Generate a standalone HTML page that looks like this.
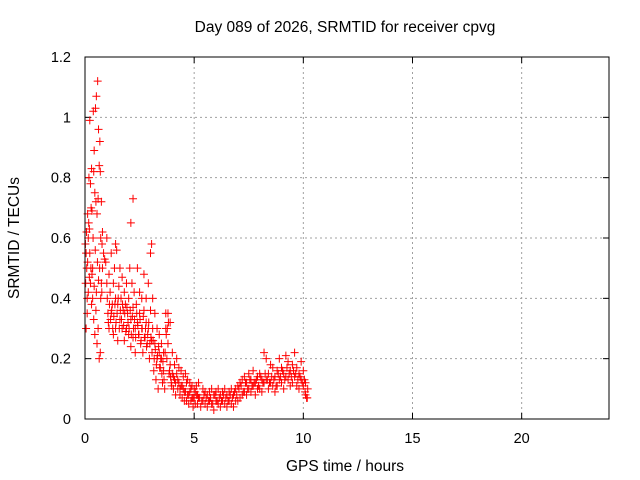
<!DOCTYPE html>
<html><head><meta charset="utf-8"><style>
body{margin:0;background:#fff;width:640px;height:480px;overflow:hidden}
svg{display:block;font-family:"Liberation Sans",sans-serif}
</style></head><body>
<svg id="chart" width="640" height="480">
<rect width="640" height="480" fill="#fff"/>
<text x="345" y="32" font-size="15.5" text-anchor="middle">Day 089 of 2026, SRMTID for receiver cpvg</text>
<g id="grid"></g>
<g id="axes"></g>
<g id="points"></g>
<rect x="85" y="57" width="524" height="362" fill="none" stroke="#000" stroke-width="1"/>
<text x="345" y="471" font-size="15.5" text-anchor="middle">GPS time / hours</text>
<text x="19" y="238" font-size="15.5" text-anchor="middle" transform="rotate(-90 19 238)">SRMTID / TECUs</text>
</svg>
<script>
const xTicks=[0,5,10,15,20];
const yTicks=[0,0.2,0.4,0.6,0.8,1,1.2];
const yTickLabels=["0","0.2","0.4","0.6","0.8","1","1.2"];
const hours=[0.03,0.05,0.08,0.1,0.12,0.15,0.18,0.2,0.22,0.25,0.28,0.3,0.32,0.35,0.38,0.4,0.42,0.45,0.48,0.5,0.52,0.55,0.58,0.6,0.62,0.65,0.68,0.7,0.72,0.75,0.78,0.8,0.05,0.1,0.15,0.2,0.25,0.3,0.35,0.4,0.45,0.5,0.55,0.6,0.65,0.7,0.75,0.8,0.85,0.9,0.95,1.0,
1.0,1.05,1.1,1.1,1.15,1.2,1.2,1.25,1.3,1.3,1.35,1.4,1.4,1.45,1.5,1.5,1.55,1.6,1.6,1.65,1.7,1.7,1.75,1.8,1.8,1.85,1.9,1.9,1.95,2.0,2.0,2.05,2.1,2.1,2.15,2.2,2.2,2.25,2.3,2.3,2.35,2.4,2.4,2.45,2.5,2.5,2.55,2.6,2.6,2.65,2.7,2.7,2.75,2.8,2.8,2.85,2.9,2.9,2.95,3.0,3.0,3.05,3.1,3.1,3.15,3.2,3.2,3.25,3.3,3.3,3.35,3.4,3.4,3.45,3.5,3.5,3.55,3.6,3.6,3.65,3.7,3.7,3.75,3.8,3.8,3.85,3.9,3.9,3.95,4.0,4.0,4.05,4.1,4.1,4.15,4.2,4.2,4.25,4.3,4.3,4.35,4.4,4.4,4.45,4.5,4.5,4.55,4.6,4.6,4.65,4.7,4.7,4.75,4.8,4.8,4.85,4.9,4.9,4.95,5.0,5.0,5.05,5.1,5.1,5.15,5.2,5.2,5.3,5.4,5.4,5.5,5.5,5.6,5.6,5.7,5.7,5.8,5.8,5.9,5.9,6.0,6.0,6.1,6.1,6.2,6.2,6.3,6.3,6.4,6.4,6.5,6.5,6.6,6.6,6.7,6.7,6.8,6.8,6.9,6.9,7.0,7.0,7.1,7.1,7.2,7.2,7.3,7.3,7.4,7.4,7.5,7.5,7.6,7.6,7.7,7.7,7.8,7.8,7.9,7.9,8.0,8.0,8.1,8.1,8.2,8.2,8.3,8.3,8.4,8.4,8.5,8.5,8.6,8.6,8.7,8.7,8.8,8.8,8.9,8.9,9.0,9.0,9.1,9.1,9.2,9.2,9.3,9.3,9.4,9.4,9.5,9.5,9.6,9.6,9.7,9.7,9.8,9.8,9.9,9.9,10.0,10.0,10.05,10.1,10.1,10.15,10.2];
const tec=[0.45,0.55,0.5,0.4,0.68,0.6,0.8,0.63,0.99,0.78,0.7,0.83,0.69,0.5,1.02,0.82,0.89,0.75,1.03,0.72,1.07,0.68,1.12,0.73,0.96,0.84,0.92,0.82,0.6,0.72,0.58,0.62,0.3,0.35,0.42,0.47,0.45,0.38,0.4,0.33,0.28,0.36,0.25,0.3,0.2,0.22,0.45,0.5,0.55,0.53,0.52,0.6,
0.45,0.35,0.48,0.3,0.42,0.55,0.35,0.38,0.45,0.28,0.5,0.4,0.3,0.56,0.38,0.26,0.44,0.5,0.33,0.4,0.47,0.3,0.36,0.42,0.26,0.38,0.45,0.3,0.35,0.4,0.28,0.5,0.33,0.24,0.45,0.37,0.27,0.42,0.3,0.22,0.38,0.5,0.32,0.28,0.42,0.35,0.25,0.4,0.3,0.22,0.36,0.48,0.27,0.32,0.4,0.25,0.45,0.3,0.2,0.36,0.55,0.26,0.4,0.3,0.16,0.35,0.25,0.13,0.3,0.2,0.1,0.28,0.22,0.17,0.25,0.2,0.12,0.22,0.16,0.1,0.35,0.3,0.2,0.35,0.25,0.15,0.32,0.18,0.12,0.22,0.15,0.1,0.18,0.13,0.08,0.2,0.15,0.1,0.17,0.12,0.08,0.16,0.11,0.07,0.14,0.1,0.06,0.15,0.09,0.06,0.13,0.08,0.05,0.12,0.09,0.06,0.11,0.07,0.04,0.1,0.07,0.05,0.11,0.08,0.05,0.12,0.07,0.04,0.1,0.06,0.09,0.05,0.08,0.04,0.09,0.06,0.1,0.05,0.08,0.03,0.09,0.06,0.1,0.05,0.08,0.04,0.09,0.06,0.1,0.05,0.08,0.04,0.09,0.06,0.1,0.05,0.08,0.04,0.1,0.06,0.11,0.06,0.12,0.07,0.13,0.08,0.14,0.09,0.12,0.08,0.15,0.1,0.13,0.09,0.16,0.11,0.12,0.08,0.14,0.1,0.15,0.1,0.13,0.09,0.22,0.12,0.2,0.13,0.15,0.1,0.18,0.12,0.17,0.11,0.14,0.09,0.16,0.11,0.2,0.13,0.17,0.12,0.15,0.1,0.21,0.14,0.19,0.13,0.16,0.11,0.18,0.12,0.22,0.14,0.17,0.11,0.15,0.1,0.19,0.13,0.16,0.11,0.13,0.08,0.12,0.07,0.1,0.06,0.05];
const hours2=[0.02,0.07,0.12,0.17,0.22,0.27,0.32,0.37,0.42,0.47,0.52,0.57,0.62,0.67,0.72,0.77,
1.02,1.07,1.12,1.17,1.22,1.27,1.32,1.37,1.42,1.47,1.52,1.57,1.62,1.67,1.72,1.77,1.82,1.87,1.92,1.97,2.02,2.07,2.12,2.17,2.22,2.27,2.32,2.37,2.42,2.47,2.52,2.57,2.62,2.67,2.72,2.77,2.82,2.87,2.92,2.97,3.02,3.07,3.12,3.17,3.22,3.27,3.32,3.37,3.42,3.47,3.52,3.57,3.62,3.67,3.72,3.77,3.82,3.87,3.92,3.97,
4.05,4.15,4.25,4.35,4.45,4.55,4.65,4.75,4.85,4.95,5.05,5.15,5.25,5.35,5.45,5.55,5.65,5.75,5.85,5.95,6.05,6.15,6.25,6.35,6.45,6.55,6.65,6.75,6.85,6.95,7.05,7.15,7.25,7.35,7.45,7.55,7.65,7.75,7.85,7.95,8.05,8.15,8.25,8.35,8.45,8.55,8.65,8.75,8.85,8.95,9.05,9.15,9.25,9.35,9.45,9.55,9.65,9.75,9.85,9.95,10.08,10.18,
2.2,2.1,1.4,3.05];
const tec2=[0.58,0.62,0.52,0.65,0.55,0.5,0.48,0.6,0.44,0.56,0.42,0.52,0.46,0.5,0.4,0.42,
0.4,0.32,0.38,0.33,0.36,0.3,0.34,0.38,0.32,0.35,0.4,0.3,0.36,0.33,0.38,0.31,0.35,0.29,0.37,0.32,0.3,0.36,0.28,0.34,0.3,0.33,0.27,0.35,0.31,0.28,0.33,0.26,0.3,0.34,0.27,0.3,0.24,0.28,0.32,0.25,0.27,0.22,0.26,0.2,0.23,0.18,0.21,0.24,0.17,0.2,0.15,0.19,0.13,0.22,0.28,0.3,0.32,0.16,0.14,0.11,
0.14,0.12,0.13,0.1,0.11,0.09,0.12,0.08,0.1,0.07,0.09,0.08,0.07,0.06,0.08,0.07,0.06,0.07,0.05,0.08,0.06,0.07,0.06,0.08,0.07,0.06,0.08,0.07,0.09,0.08,0.1,0.11,0.09,0.12,0.1,0.13,0.11,0.12,0.13,0.11,0.14,0.12,0.15,0.13,0.12,0.14,0.13,0.11,0.15,0.14,0.16,0.13,0.17,0.15,0.14,0.16,0.15,0.13,0.14,0.12,0.09,0.07,
0.73,0.65,0.58,0.58];
const X0=85,X1=609,Y0=419,Y1=57,XMAX=24,YMAX=1.2;
const xs=v=>X0+(X1-X0)*v/XMAX, ys=v=>Y0-(Y0-Y1)*v/YMAX;
const NS="http://www.w3.org/2000/svg";
const grid=document.getElementById('grid'),axes=document.getElementById('axes'),pts=document.getElementById('points');
function mk(t,a){const e=document.createElementNS(NS,t);for(const k in a)e.setAttribute(k,a[k]);return e;}
xTicks.forEach((v,i)=>{const x=xs(v);
 if(v>0){const g=mk('line',{x1:x,x2:x,y1:Y1,y2:Y0,stroke:'#a0a0a0','stroke-dasharray':'2,3'});
 
 grid.appendChild(g);}
 const t=mk('line',{x1:x,x2:x,y1:Y0,y2:Y0-6,stroke:'#000'});axes.appendChild(t);
 const t2=mk('line',{x1:x,x2:x,y1:Y1,y2:Y1+6,stroke:'#000'});axes.appendChild(t2);
 const l=mk('text',{x:x,y:443,'font-size':14.5,'text-anchor':'middle'});l.textContent=String(v);
 
 axes.appendChild(l);});
yTicks.forEach((v,i)=>{const y=ys(v);
 if(v>0&&v<YMAX){const g=mk('line',{x1:X0,x2:X1,y1:y,y2:y,stroke:'#a0a0a0','stroke-dasharray':'2,3'});
 
 grid.appendChild(g);}
 const t=mk('line',{x1:X0,x2:X0+6,y1:y,y2:y,stroke:'#000'});axes.appendChild(t);
 const t2=mk('line',{x1:X1,x2:X1-6,y1:y,y2:y,stroke:'#000'});axes.appendChild(t2);
 const l=mk('text',{x:71,y:y+5,'font-size':14.5,'text-anchor':'end'});l.textContent=yTickLabels[i];
 
 axes.appendChild(l);});
function plot(hs,vs){const n=Math.min(hs.length,vs.length);
 for(let i=0;i<n;i++){const x=xs(hs[i]),y=ys(vs[i]);
 const p=mk('path',{d:`M${x-4},${y}H${x+4}M${x},${y-4}V${y+4}`,stroke:'#ff0000','stroke-width':1,fill:'none'});
 
 pts.appendChild(p);}}
plot(hours,tec);
plot(hours2,tec2);
</script>
</body></html>
